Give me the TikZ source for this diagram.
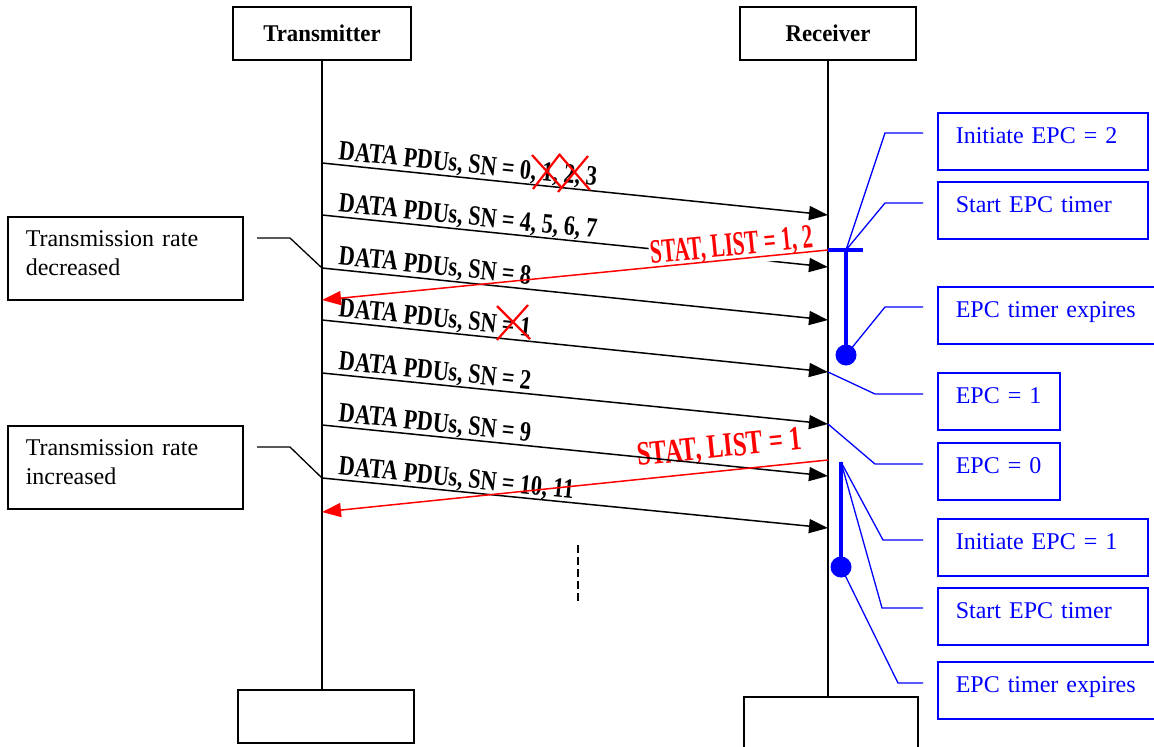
\documentclass[tikz,border=0pt]{standalone}
\usepackage{fontspec}
\usepackage{graphicx}
\setmainfont{Liberation Serif}
\usetikzlibrary{arrows.meta}
\begin{document}
\begin{tikzpicture}[x=1pt, y=-1pt,
  every node/.style={font=\fontsize{24}{29}\selectfont},
  actor/.style={draw, line width=1.5pt, minimum height=53pt, inner sep=0pt,
    font=\fontsize{24}{26}\selectfont\bfseries},
  life/.style={line width=1.5pt},
  msg/.style={line width=1.5pt, -{Triangle[length=19pt,width=14pt]}},
  stat/.style={red, line width=1.5pt, -{Triangle[length=19pt,width=14pt]}},
  dlbl/.style={anchor=base west, inner sep=0pt, rotate=-5.87,
    font=\fontsize{28}{32}\selectfont\bfseries},
  slbl/.style={anchor=base west, text=red, inner xsep=1pt, inner ysep=4pt,
    font=\fontsize{34}{38}\selectfont\bfseries},
  xmark/.style={red, line width=2.2pt},
  note/.style={draw, line width=1.5pt, anchor=north west, align=left,
    inner xsep=18pt, inner ysep=0pt, text width=199pt,
    text height=30pt, text depth=53pt},
  epc/.style={draw=blue, text=blue, line width=1.5pt, anchor=north west,
    align=left, inner xsep=18pt, inner ysep=0pt,
    text height=31pt, text depth=26pt},
  callout/.style={line width=1.3pt},
  bcallout/.style={blue, line width=1.3pt},
  timer/.style={blue, line width=4.5pt},
  dot/.style={circle, fill=blue, inner sep=0pt, minimum size=21pt},
]
\useasboundingbox (0,0) rectangle (1154,747);

% lifeline heads and feet
\node[actor, minimum width=178pt] (txtop) at (322,33.5) {\scalebox{0.95}[1]{Transmitter}};
\node[actor, minimum width=176pt] (rxtop) at (828,33.5) {\scalebox{0.95}[1]{Receiver}};
\node[actor, minimum width=176pt] (txbot) at (326,716.5) {};
\node[actor, minimum width=174pt] (rxbot) at (831,723.5) {};
\draw[life] (txtop.south) -- (txtop.south |- txbot.north);
\draw[life] (rxtop.south) -- (rxtop.south |- rxbot.north);

% message end points on the lifelines
\coordinate (t1) at (322,163); \coordinate (r1) at (828,215);
\coordinate (t2) at (322,215); \coordinate (r2) at (828,267);
\coordinate (t3) at (322,268); \coordinate (r3) at (828,320);
\coordinate (t4) at (322,320); \coordinate (r4) at (828,372);
\coordinate (t5) at (322,373); \coordinate (r5) at (828,424);
\coordinate (t6) at (322,425); \coordinate (r6) at (828,476);
\coordinate (t7) at (322,478); \coordinate (r7) at (828,528);
\coordinate (rs1) at (828,250); \coordinate (ts1) at (322,300);
\coordinate (rs2) at (828,460); \coordinate (ts2) at (322,512);

% second status report label (arrows run over it)
\node[slbl, rotate=5.87] (s2) at (637,466) {\scalebox{0.72}[1]{STAT, LIST = 1}};

% data PDUs
\draw[msg] (t1) -- (r1);
\draw[msg] (t2) -- (r2);
\draw[msg] (t3) -- (r3);
\draw[msg] (t4) -- (r4);
\draw[msg] (t5) -- (r5);
\draw[msg] (t6) -- (r6);
\draw[msg] (t7) -- (r7);

\node[dlbl] (d1) at (338,159.5) {\scalebox{0.79}[1]{DATA PDUs, SN = 0, 1, 2, 3}};
\node[dlbl] (d2) at (338,211.5) {\scalebox{0.79}[1]{DATA PDUs, SN = 4, 5, 6, 7}};
\node[dlbl] (d3) at (338,264.5) {\scalebox{0.79}[1]{DATA PDUs, SN = 8}};
\node[dlbl] (d4) at (338,316.5) {\scalebox{0.79}[1]{DATA PDUs, SN = 1}};
\node[dlbl] (d5) at (338,369.5) {\scalebox{0.79}[1]{DATA PDUs, SN = 2}};
\node[dlbl] (d6) at (338,421.5) {\scalebox{0.79}[1]{DATA PDUs, SN = 9}};
\node[dlbl] (d7) at (338,474.5) {\scalebox{0.79}[1]{DATA PDUs, SN = 10, 11}};

% first status report label, on a white ground
\node[slbl, fill=white, rotate=5.64] (s1) at (650,264) {\scalebox{0.62}[1]{STAT, LIST = 1, 2}};

% status reports
\draw[stat] (rs1) -- (ts1);
\draw[stat] (rs2) -- (ts2);

% lost sequence numbers
\draw[xmark] (532,155) -- (562,188) (560,154) -- (533,189);
\draw[xmark] (559,154) -- (590,190) (588,156) -- (558,192);
\draw[xmark] (497,306) -- (530,339) (528,305) -- (497,340);

% continuation
\draw[line width=2pt, dash pattern=on 7.5pt off 4.5pt] (578,545) -- (578,601);

% rate notes
\node[note] (dec) at (7,216) {Transmission rate\\decreased};
\node[note] (inc) at (7,425) {Transmission rate\\increased};
\coordinate (decl) at (257,238);
\coordinate (incl) at (257,447);
\draw[callout] (decl) -- ++(33,0) -- (t3);
\draw[callout] (incl) -- ++(33,0) -- (t7);

% EPC timers
\coordinate (e1top) at (846,250);
\coordinate (e2top) at (841,462);
\coordinate (e1end) at (846,355);
\coordinate (e2end) at (841,567);

% EPC notes
\node[epc, text width=174pt] (b1) at (937,112) {Initiate EPC = 2};
\node[epc, text width=174pt] (b2) at (937,181) {Start EPC timer};
\node[epc, text width=184pt] (b3) at (937,286) {EPC timer expires};
\node[epc, text width=86pt]  (b4) at (937,372) {EPC = 1};
\node[epc, text width=86pt]  (b5) at (937,442) {EPC = 0};
\node[epc, text width=174pt] (b6) at (937,518) {Initiate EPC = 1};
\node[epc, text width=174pt] (b7) at (937,587) {Start EPC timer};
\node[epc, text width=184pt] (b8) at (937,661) {EPC timer expires};

\coordinate (c1) at (923,133);
\coordinate (c2) at (923,203);
\coordinate (c3) at (923,307);
\coordinate (c4) at (923,394);
\coordinate (c5) at (923,464);
\coordinate (c6) at (923,540);
\coordinate (c7) at (923,608);
\coordinate (c8) at (923,683);
\draw[bcallout] (c1) -- ++(-38,0) -- (e1top);
\draw[bcallout] (c2) -- ++(-38,0) -- (e1top);
\draw[bcallout] (c3) -- ++(-38,0) -- (e1end);
\draw[bcallout] (c4) -- ++(-48,0) -- (r4);
\draw[bcallout] (c5) -- ++(-48,0) -- (r5);
\draw[bcallout] (c6) -- ++(-40,0) -- (e2top);
\draw[bcallout] (c7) -- ++(-41,0) -- (e2top);
\draw[bcallout] (c8) -- ++(-25,0) -- (e2end);

\draw[timer] (rs1) -- ++(35,0);
\draw[timer] (e1top) -- (e1end);
\draw[timer] (e2top) -- (e2end);
\node[dot] (p1) at (e1end) {};
\node[dot] (p2) at (e2end) {};
\end{tikzpicture}
\end{document}
